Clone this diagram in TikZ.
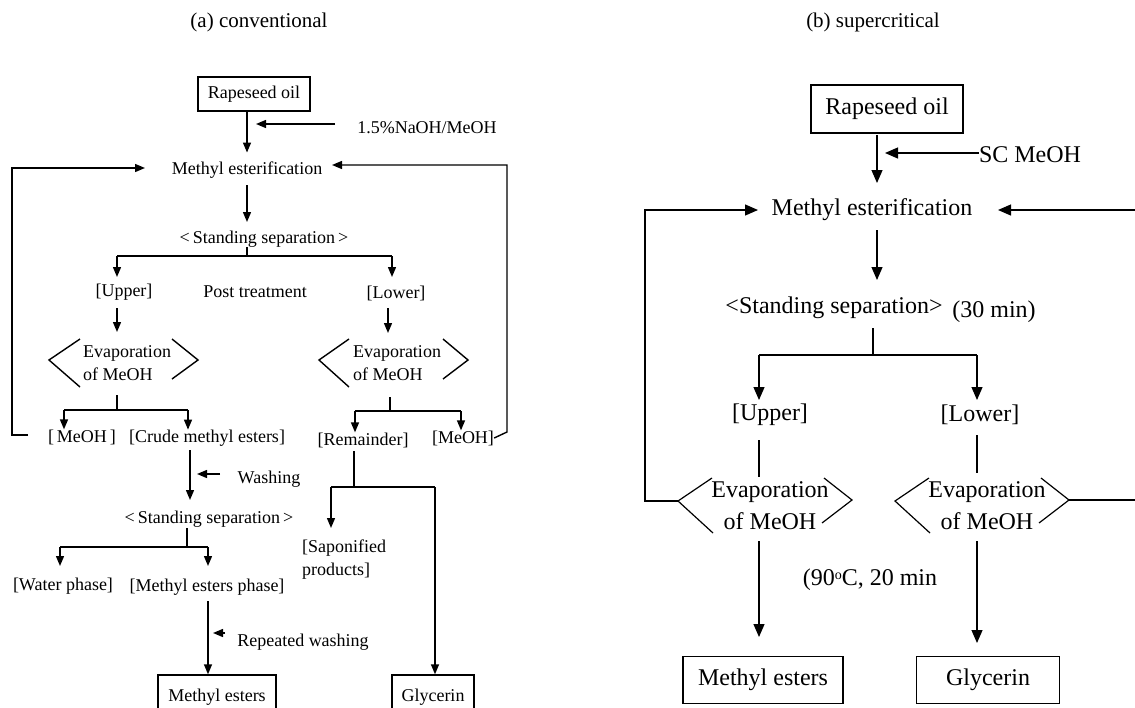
\documentclass[tikz,border=0pt]{standalone}
\usepackage{fontspec}
\setmainfont{Liberation Serif}
\usetikzlibrary{arrows.meta,calc}
\begin{document}
\begin{tikzpicture}[x=1pt,y=-1pt,
  lnL/.style={line width=1.4pt},
  arL/.style={lnL,-{Triangle[length=10pt,width=8pt]}},
  lnR/.style={line width=1.2pt},
  arR/.style={lnR,-{Triangle[length=13pt,width=11pt]}},
  tL/.style={font=\fontsize{18}{23}\selectfont,inner sep=0pt},
  tR/.style={font=\fontsize{24}{32}\selectfont,inner sep=0pt},
  ttl/.style={font=\fontsize{21}{25}\selectfont,inner sep=0pt},
  bxL/.style={tL,draw,line width=1.4pt},
  bxR/.style={tR,draw,line width=1.2pt},
]
\useasboundingbox (0,0) rectangle (1135,707);
% ================= (a) conventional =================
\node[ttl] (ta) at (259,22) {(a) conventional};
\node[bxL,minimum width=112pt,minimum height=34pt] (rapeL) at (254,94) {Rapeseed oil};
\node[tL] (naoh) at (427,128) {1.5\%NaOH/MeOH};
\node[tL] (esterL) at (247,170) {Methyl esterification};
\node[tL] (sepL1) at (264,239) {<\,Standing separation\,>};
\node[tL] (upperL) at (124,292) {[Upper]};
\node[tL] (postL) at (255,292) {Post treatment};
\node[tL] (lowerL) at (396,293) {[Lower]};
\node[tL,align=left] (evL) at (127,363) {Evaporation\\of MeOH};
\node[tL,align=left] (evLR) at (397,363) {Evaporation\\of MeOH};
\node[tL] (meohL) at (82,437) {[\,MeOH\,]};
\node[tL] (crude) at (207,438) {[Crude methyl esters]};
\node[tL] (remain) at (363,440) {[Remainder]};
\node[tL] (meohR) at (463,438) {[MeOH]};
\node[tL] (wash) at (269,479) {Washing};
\node[tL] (sepL2) at (209,519) {<\,Standing separation\,>};
\node[tL,align=left,anchor=west] (sapon) at (302,560) {[Saponified\\products]};
\node[tL] (water) at (63,586) {[Water phase]};
\node[tL] (mephase) at (207,587) {[Methyl esters phase]};
\node[tL] (rwash) at (303,642) {Repeated washing};
\node[bxL,minimum width=118pt,minimum height=44pt] (meL) at (217,697) {Methyl esters};
\node[bxL,minimum width=82pt,minimum height=44pt] (glyL) at (433,697) {Glycerin};

% hexagon brackets
\foreach \n/\lx/\rx in {evL/-47/45, evLR/-48/46}{
  \draw[lnL] ($(\n)+(\lx,-24)$) -- ($(\n)+(-78,-3)$) -- ($(\n)+(\lx,24)$);
  \draw[lnL] ($(\n)+(\rx,-24)$) -- ($(\n)+(71,-3)$) -- ($(\n)+(\rx,16)$);
}

% coordinates
\coordinate (naohTail) at (335,124);
\coordinate (naohTip) at (256,124);
\coordinate (b1) at (247,256);
\coordinate (b1U) at (117,256);
\coordinate (b1D) at (392,256);
\coordinate (upA) at (117,308);
\coordinate (upB) at (117,332);
\coordinate (loA) at (388,308);
\coordinate (loB) at (388,333);
\coordinate (e1) at (117,395);
\coordinate (e1b) at (117,410);
\coordinate (e1L) at (64,410);
\coordinate (e1R) at (188,410);
\coordinate (e2) at (390,397);
\coordinate (e2b) at (390,411);
\coordinate (e2L) at (355,411);
\coordinate (e2R) at (461,411);
\coordinate (lpA) at (28,435);
\coordinate (lpB) at (12,168);
\coordinate (lpC) at (145,168);
\coordinate (rpA) at (507,432);
\coordinate (rpB) at (507,165);
\coordinate (rpC) at (332,165);
\coordinate (crA) at (190,450);
\coordinate (crB) at (190,500);
\coordinate (waA) at (220,474);
\coordinate (waB) at (197,474);
\coordinate (s2) at (187,528);
\coordinate (s2b) at (187,547);
\coordinate (s2L) at (60,547);
\coordinate (s2R) at (208,547);
\coordinate (mpA) at (208,601);
\coordinate (rwA) at (225,633);
\coordinate (rwB) at (213,633);
\coordinate (rmA) at (354,451);
\coordinate (rmB) at (354,487);
\coordinate (rmL) at (331,487);
\coordinate (rmR) at (435,487);

\draw[arL] (rapeL.south -| esterL) -- ($(esterL.north)+(0,-9)$);
\draw[arL] (naohTail) -- (naohTip);
\draw[arL] (esterL.south |- 0,185) -- (esterL.south |- 0,222);
\draw[lnL] (b1 |- sepL1.south) -- (b1);
\draw[lnL] (b1U) -- (b1D);
\draw[arL] (b1U) -- (b1U |- 0,277);
\draw[arL] (b1D) -- (b1D |- 0,277);
\draw[arL] (upA) -- (upB);
\draw[arL] (loA) -- (loB);
\draw[lnL] (e1) -- (e1b);
\draw[lnL] (e1L) -- (e1R);
\draw[arL] (e1L) -- (e1L |- meohL.north);
\draw[arL] (e1R) -- (e1R |- crude.north);
\draw[lnL] (e2) -- (e2b);
\draw[lnL] (e2L) -- (e2R);
\draw[arL] (e2L) -- (e2L |- remain.north);
\draw[arL] (e2R) -- (e2R |- meohR.north);
\draw[arL] (lpA) -| (lpB) -- (lpC);
\draw[arL] (meohR.east) -- (rpA) -- (rpB) -- (rpC);
\draw[arL] (crA) -- (crB);
\draw[arL] (waA) -- (waB);
\draw[lnL] (s2) -- (s2b);
\draw[lnL] (s2L) -- (s2R);
\draw[arL] (s2L) -- (s2L |- 0,566);
\draw[arL] (s2R) -- (s2R |- 0,566);
\draw[arL] (mpA) -- (mpA |- meL.north);
\draw[arL] (rwA) -- (rwB);
\draw[lnL] (rmA) -- (rmB);
\draw[lnL] (rmL) -- (rmR);
\draw[arL] (rmL) -- (rmL |- 0,528);
\draw[arL] (rmR) -- (rmR |- glyL.north);

% ================= (b) supercritical =================
\node[ttl] (tb) at (873,22) {(b) supercritical};
\node[bxR,minimum width=152pt,minimum height=48pt] (rapeR) at (887,109) {Rapeseed oil};
\node[tR] (scm) at (1030,155) {SC MeOH};
\node[tR] (esterR) at (872,210) {Methyl esterification};
\node[tR] (sepR) at (834,308) {<Standing separation>};
\node[tR] (min30) at (994,312) {(30 min)};
\node[tR] (upperR) at (770,415) {[Upper]};
\node[tR] (lowerR) at (980,415) {[Lower]};
\node[tR,align=center] (evR1) at (770,506) {Evaporation\\of MeOH};
\node[tR,align=center] (evR2) at (987,506) {Evaporation\\of MeOH};
\node[tR] (cond) at (870,580) {(90{\fontsize{14}{14}\selectfont\raisebox{6pt}{o}}C, 20 min};
\node[bxR,minimum width=160pt,minimum height=47pt] (meR) at (763,680) {Methyl esters};
\node[bxR,minimum width=143pt,minimum height=47pt] (glyR) at (988,680) {Glycerin};

\foreach \n in {evR1, evR2}{
  \draw[lnR] ($(\n)+(-58,-28)$) -- ($(\n)+(-92,-5)$) -- ($(\n)+(-57,27)$);
  \draw[lnR] ($(\n)+(54,-28)$) -- ($(\n)+(82,-6)$) -- ($(\n)+(52,17)$);
}
\coordinate (hxL) at ($(evR1)+(-92,-5)$);
\coordinate (hxR) at ($(evR2)+(82,-6)$);

\coordinate (rA) at (877,135);
\coordinate (rB) at (877,183);
\coordinate (scTip) at (885,153);
\coordinate (r2A) at (877,230);
\coordinate (r2B) at (877,280);
\coordinate (bR) at (873,328);
\coordinate (bRb) at (873,355);
\coordinate (bRL) at (759,355);
\coordinate (bRR) at (977,355);
\coordinate (lpRx) at (645,210);
\coordinate (lpRend) at (758,210);
\coordinate (rpRa) at (1135,210);
\coordinate (rpRb) at (998,210);
\coordinate (rpRc) at (1135,500);

\draw[arR] (rA) -- (rB);
\draw[arR] (scm.west |- scTip) -- (scTip);
\draw[arR] (r2A) -- (r2B);
\draw[lnR] (bR) -- (bRb);
\draw[lnR] (bRL) -- (bRR);
\draw[arR] (bRL) -- (bRL |- 0,400);
\draw[arR] (bRR) -- (bRR |- 0,400);
\draw[lnR] (upperR.south -| bRL) ++(0,14) -- (bRL |- 0,477);
\draw[lnR] (lowerR.south -| bRR) ++(0,10) -- (bRR |- 0,473);
\draw[arR] (evR1.south -| bRL) ++(0,11) -- (bRL |- 0,637);
\draw[arR] (evR2.south -| bRR) ++(0,11) -- (bRR |- 0,643);
\draw[arR] (hxL) -| (lpRx) -- (lpRend);
\draw[arR] (rpRa) -- (rpRb);
\draw[lnR] (hxR) -- (rpRc |- hxR);
\end{tikzpicture}
\end{document}
